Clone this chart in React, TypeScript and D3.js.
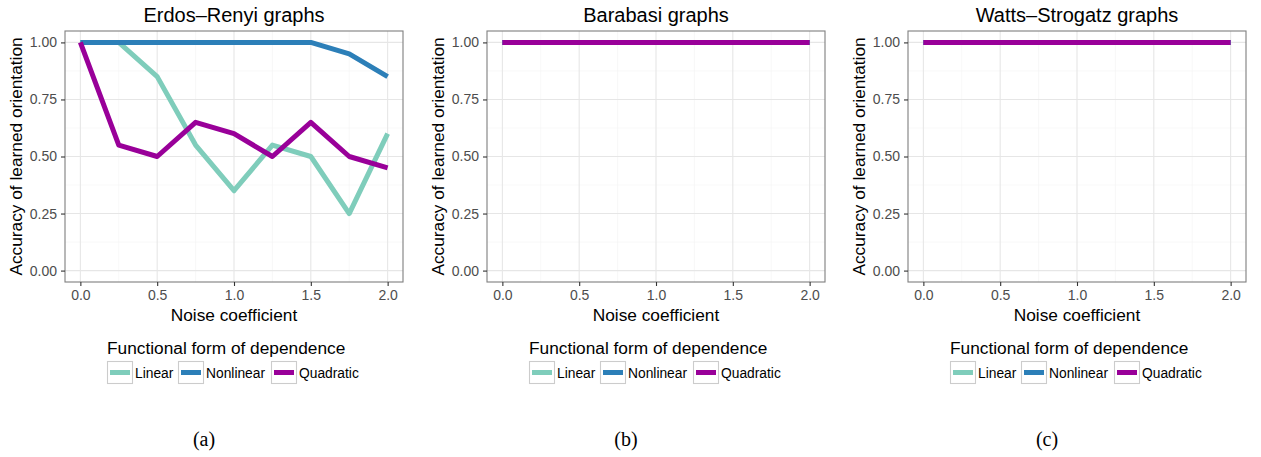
import React, { useRef, useEffect } from 'react';
import * as d3 from 'd3';

// Noise coefficient values (x axis)
const noise = [0, 0.25, 0.5, 0.75, 1.0, 1.25, 1.5, 1.75, 2.0];

const seriesNames = ['Linear', 'Nonlinear', 'Quadratic'];
const seriesColors = ['#7fcdbb', '#2c7fb8', '#990099'];

// Erdos-Renyi panel
const erLinear = [1.0, 1.0, 0.85, 0.55, 0.35, 0.55, 0.5, 0.25, 0.6];
const erNonlinear = [1.0, 1.0, 1.0, 1.0, 1.0, 1.0, 1.0, 0.95, 0.85];
const erQuadratic = [1.0, 0.55, 0.5, 0.65, 0.6, 0.5, 0.65, 0.5, 0.45];

// Barabasi panel
const baLinear = [1, 1, 1, 1, 1, 1, 1, 1, 1];
const baNonlinear = [1, 1, 1, 1, 1, 1, 1, 1, 1];
const baQuadratic = [1, 1, 1, 1, 1, 1, 1, 1, 1];

// Watts-Strogatz panel
const wsLinear = [1, 1, 1, 1, 1, 1, 1, 1, 1];
const wsNonlinear = [1, 1, 1, 1, 1, 1, 1, 1, 1];
const wsQuadratic = [1, 1, 1, 1, 1, 1, 1, 1, 1];

const panelTitles = ['Erdos\u2013Renyi graphs', 'Barabasi graphs', 'Watts\u2013Strogatz graphs'];
const captions = ['(a)', '(b)', '(c)'];
const xTicks = [0, 0.5, 1.0, 1.5, 2.0];
const yTicks = [0, 0.25, 0.5, 0.75, 1.0];

const panels = [
  [erLinear, erNonlinear, erQuadratic],
  [baLinear, baNonlinear, baQuadratic],
  [wsLinear, wsNonlinear, wsQuadratic],
];

const App = () => {
  const svgRef = useRef<SVGSVGElement>(null);

  useEffect(() => {
    const svg = d3.select(svgRef.current);
    svg.selectAll('*').remove();

    const font = '"Liberation Sans", Arial, Helvetica, sans-serif';
    const panelOffsets = [0, 422, 843];
    const plotW = 338;
    const plotH = 251;
    const plotLeft = 65;
    const plotTop = 31;

    panels.forEach((series, pi) => {
      const ox = panelOffsets[pi];
      const g = svg.append('g').attr('transform', `translate(${ox + plotLeft},${plotTop})`);

      // ggplot-style expanded domains
      const x = d3.scaleLinear().domain([-0.1, 2.1]).range([0, plotW]);
      const y = d3.scaleLinear().domain([-0.05, 1.05]).range([plotH, 0]);

      // minor grid
      const xMinor = [0.25, 0.75, 1.25, 1.75];
      const yMinor = [0.125, 0.375, 0.625, 0.875];
      g.append('g').selectAll('line').data(xMinor).join('line')
        .attr('x1', d => x(d)).attr('x2', d => x(d)).attr('y1', 0).attr('y2', plotH)
        .attr('stroke', '#f4f4f4').attr('stroke-width', 0.6);
      g.append('g').selectAll('line').data(yMinor).join('line')
        .attr('y1', d => y(d)).attr('y2', d => y(d)).attr('x1', 0).attr('x2', plotW)
        .attr('stroke', '#f4f4f4').attr('stroke-width', 0.6);

      // major grid
      g.append('g').selectAll('line').data(xTicks).join('line')
        .attr('x1', d => x(d)).attr('x2', d => x(d)).attr('y1', 0).attr('y2', plotH)
        .attr('stroke', '#e6e6e6').attr('stroke-width', 1.1);
      g.append('g').selectAll('line').data(yTicks).join('line')
        .attr('y1', d => y(d)).attr('y2', d => y(d)).attr('x1', 0).attr('x2', plotW)
        .attr('stroke', '#e6e6e6').attr('stroke-width', 1.1);

      // lines
      const line = d3.line<number>()
        .x((_, i) => x(noise[i]))
        .y(d => y(d));
      series.forEach((vals, si) => {
        g.append('path')
          .datum(vals)
          .attr('d', line)
          .attr('fill', 'none')
          .attr('stroke', seriesColors[si])
          .attr('stroke-width', 5)
          .attr('stroke-linejoin', 'round')
          .attr('stroke-linecap', 'butt');
      });

      // panel border
      g.append('rect')
        .attr('x', 0).attr('y', 0).attr('width', plotW).attr('height', plotH)
        .attr('fill', 'none').attr('stroke', '#7f7f7f').attr('stroke-width', 1.1);

      // x axis
      const xAxis = g.append('g')
        .attr('transform', `translate(0,${plotH})`)
        .call(d3.axisBottom(x).tickValues(xTicks).tickFormat(d3.format('.1f')).tickSize(4).tickPadding(4));
      xAxis.select('.domain').remove();
      xAxis.selectAll('line').attr('stroke', '#333').attr('stroke-width', 1.1);
      xAxis.selectAll('text').attr('fill', '#4d4d4d').style('font-family', font).style('font-size', '14px');

      // y axis
      const yAxis = g.append('g')
        .call(d3.axisLeft(y).tickValues(yTicks).tickFormat(d3.format('.2f')).tickSize(4).tickPadding(4));
      yAxis.select('.domain').remove();
      yAxis.selectAll('line').attr('stroke', '#333').attr('stroke-width', 1.1);
      yAxis.selectAll('text').attr('fill', '#4d4d4d').style('font-family', font).style('font-size', '14px');

      // titles
      g.append('text')
        .attr('x', plotW / 2).attr('y', -9)
        .attr('text-anchor', 'middle')
        .style('font-family', font).style('font-size', '20px')
        .attr('fill', '#000')
        .text(panelTitles[pi]);

      g.append('text')
        .attr('x', plotW / 2).attr('y', plotH + 39)
        .attr('text-anchor', 'middle')
        .style('font-family', font).style('font-size', '17.3px')
        .attr('fill', '#000')
        .text('Noise coefficient');

      g.append('text')
        .attr('transform', `translate(${-43},${plotH / 2}) rotate(-90)`)
        .attr('text-anchor', 'middle')
        .style('font-family', font).style('font-size', '17.3px')
        .attr('fill', '#000')
        .text('Accuracy of learned orientation');

      // legend
      const lg = svg.append('g').attr('transform', `translate(${ox + 107},${354})`);
      lg.append('text')
        .attr('x', 0).attr('y', 0)
        .style('font-family', font).style('font-size', '17.3px')
        .attr('fill', '#000')
        .text('Functional form of dependence');
      const keyX = [0, 71, 164];
      seriesNames.forEach((name, si) => {
        const k = lg.append('g').attr('transform', `translate(${keyX[si]},${7})`);
        k.append('rect')
          .attr('x', 0.5).attr('y', 0.5).attr('width', 25).attr('height', 22)
          .attr('fill', '#fff').attr('stroke', '#cccccc').attr('stroke-width', 1.1);
        k.append('line')
          .attr('x1', 3).attr('x2', 23).attr('y1', 11.5).attr('y2', 11.5)
          .attr('stroke', seriesColors[si]).attr('stroke-width', 5);
        k.append('text')
          .attr('x', 28).attr('y', 16.5)
          .style('font-family', font).style('font-size', '13.8px')
          .attr('fill', '#000')
          .text(name);
      });

      // caption
      svg.append('text')
        .attr('x', ox + 204).attr('y', 446)
        .attr('text-anchor', 'middle')
        .style('font-family', '"Liberation Serif", "Times New Roman", serif')
        .style('font-size', '20px')
        .attr('fill', '#000')
        .text(captions[pi]);
    });
  }, []);

  return (
    <svg
      ref={svgRef}
      width={1261}
      height={457}
      style={{ position: 'absolute', left: 0, top: 0, background: '#fff' }}
    />
  );
};

export default App;
